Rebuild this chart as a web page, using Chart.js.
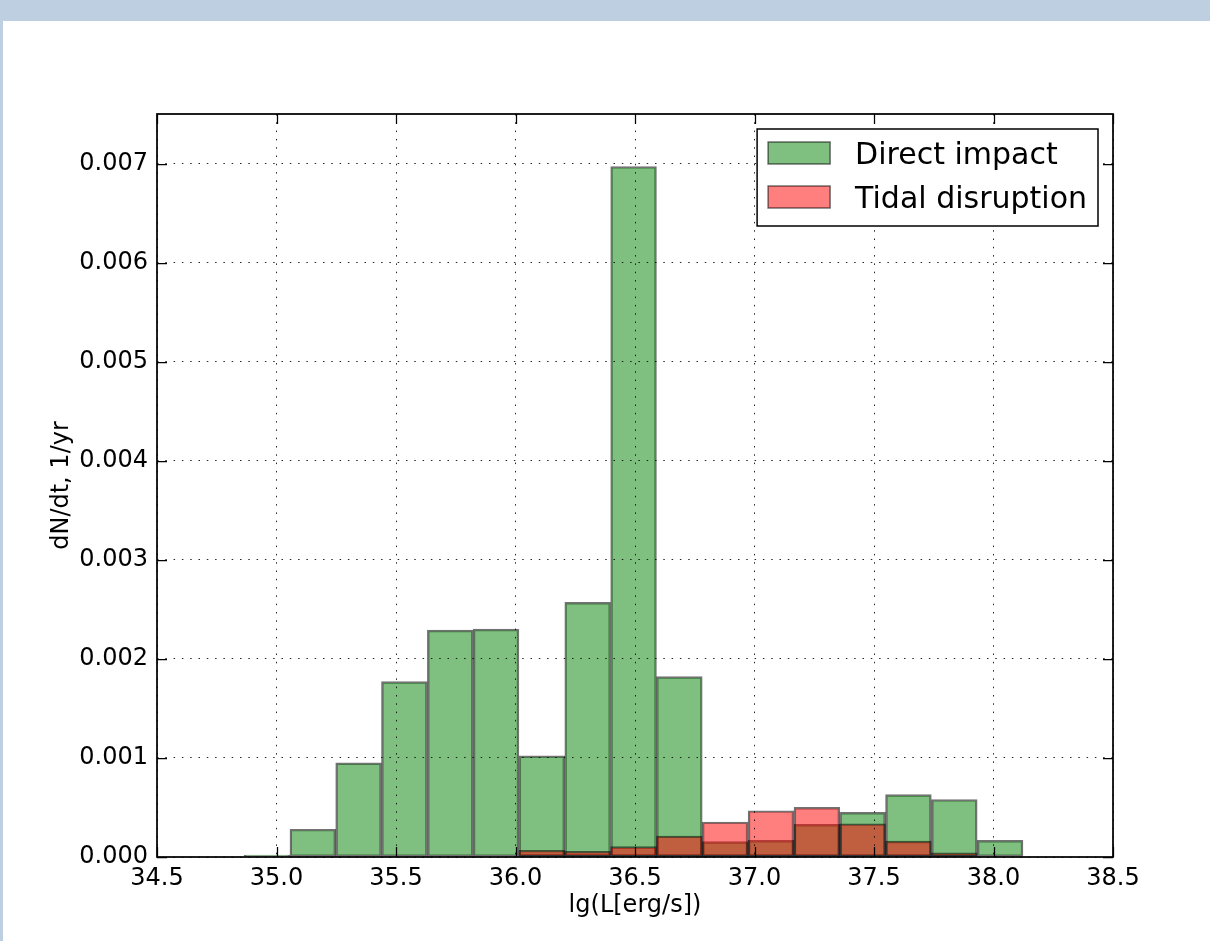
<!DOCTYPE html>
<html>
<head>
<meta charset="utf-8">
<script src="https://cdn.jsdelivr.net/npm/chart.js@4.4.0/dist/chart.umd.min.js"></script>
<style>
  html, body { margin: 0; padding: 0; background: #fff; }
  canvas { display: block; }
</style>
</head>
<body>
<canvas id="hist" width="1210" height="941"></canvas>
<script>
// Histogram bin edges, lg(L) in erg/s
const binEdges = [34.864, 35.056, 35.248, 35.439, 35.631, 35.823, 36.014, 36.206, 36.398,
                  36.590, 36.781, 36.973, 37.165, 37.357, 37.548, 37.740, 37.932, 38.123];

// Event rates per bin, dN/dt in 1/yr
const directImpact    = [0.00002, 0.00028, 0.00095, 0.00177, 0.00229, 0.00230, 0.00102, 0.00257, 0.00697,
                         0.00182, 0.000155, 0.000168, 0.00033, 0.00045, 0.00063, 0.00058, 0.000168];
const tidalDisruption = [0, 0, 0, 0, 0, 0, 0.000068, 0.000058, 0.000104,
                         0.000212, 0.000353, 0.000467, 0.000501, 0.000336, 0.000161, 0.000043, 0];

const seriesNames = ['Direct impact', 'Tidal disruption'];
const xTicks = [34.5, 35.0, 35.5, 36.0, 36.5, 37.0, 37.5, 38.0, 38.5];
const yTicks = [0, 0.001, 0.002, 0.003, 0.004, 0.005, 0.006, 0.007];
const xTitle = 'lg(L[erg/s])';
const yTitle = 'dN/dt, 1/yr';

const binCenters = binEdges.slice(0, -1).map((e, i) => (e + binEdges[i + 1]) / 2);
const toPoints = vals => vals.map((v, i) => ({ x: binCenters[i], y: v }));

const FONT = "'DejaVu Sans', 'Liberation Sans', sans-serif";
Chart.defaults.font.family = FONT;
Chart.defaults.color = '#000';

// light blue page frame behind the figure
const pageFrame = {
  id: 'pageFrame',
  beforeDraw(chart) {
    const { ctx, width, height } = chart;
    ctx.save();
    ctx.fillStyle = '#fff';
    ctx.fillRect(0, 0, width, height);
    ctx.fillStyle = '#bdcfe1';
    ctx.fillRect(0, 0, width, 21);
    ctx.fillRect(0, 0, 3, height);
    ctx.restore();
  }
};

// inward tick marks on all four sides and the axes box
const innerTicks = {
  id: 'innerTicks',
  afterDraw(chart) {
    const { ctx, chartArea: a, scales: { x, y } } = chart;
    const len = 10;
    ctx.save();
    ctx.strokeStyle = '#000';
    ctx.lineWidth = 1.25;
    ctx.beginPath();
    x.ticks.forEach(t => {
      const px = Math.round(x.getPixelForValue(t.value)) + 0.5;
      ctx.moveTo(px, a.bottom); ctx.lineTo(px, a.bottom - len);
      ctx.moveTo(px, a.top);    ctx.lineTo(px, a.top + len);
    });
    y.ticks.forEach(t => {
      const py = Math.round(y.getPixelForValue(t.value)) + 0.5;
      ctx.moveTo(a.left, py);  ctx.lineTo(a.left + len, py);
      ctx.moveTo(a.right, py); ctx.lineTo(a.right - len, py);
    });
    ctx.stroke();
    ctx.lineWidth = 1.75;
    ctx.strokeRect(a.left, a.top, a.right - a.left, a.bottom - a.top);
    ctx.restore();
  }
};

// framed legend in the upper right corner of the axes
const legendBox = {
  id: 'legendBox',
  afterDraw(chart) {
    const { ctx, chartArea: a } = chart;
    const ds = chart.data.datasets;
    ctx.save();
    ctx.font = '30px ' + FONT;
    const textW = Math.max(...ds.map(d => ctx.measureText(d.label).width));
    const padX = 11, patchW = 62, patchH = 22, gap = 25, rowH = 44;
    const w = padX + patchW + gap + textW + padX;
    const h = 97;
    const x0 = a.right - 15 - w;
    const y0 = a.top + 15;
    ctx.fillStyle = '#fff';
    ctx.fillRect(x0, y0, w, h);
    ctx.lineWidth = 1.5;
    ctx.strokeStyle = '#000';
    ctx.strokeRect(x0, y0, w, h);
    ds.forEach((d, i) => {
      const cy = y0 + 24 + i * rowH;
      ctx.fillStyle = d.backgroundColor;
      ctx.fillRect(x0 + padX, cy - patchH / 2, patchW, patchH);
      ctx.strokeStyle = d.borderColor;
      ctx.lineWidth = 1.5;
      ctx.strokeRect(x0 + padX, cy - patchH / 2, patchW, patchH);
      ctx.fillStyle = '#000';
      ctx.textBaseline = 'alphabetic';
      ctx.textAlign = 'left';
      ctx.fillText(d.label, x0 + padX + patchW + gap, cy + 10.5);
    });
    ctx.restore();
  }
};

new Chart(document.getElementById('hist'), {
  type: 'bar',
  data: {
    datasets: [
      {
        label: seriesNames[0],
        data: toPoints(directImpact),
        backgroundColor: 'rgba(0,128,0,0.5)',
        borderColor: 'rgba(0,0,0,0.55)',
        borderWidth: 1.75,
        borderSkipped: false,
        order: 2
      },
      {
        label: seriesNames[1],
        data: toPoints(tidalDisruption),
        backgroundColor: 'rgba(255,0,0,0.5)',
        borderColor: 'rgba(0,0,0,0.55)',
        borderWidth: 1.75,
        borderSkipped: false,
        order: 1
      }
    ]
  },
  options: {
    responsive: false,
    animation: false,
    devicePixelRatio: 1,
    layout: { padding: { top: 114, right: 97, bottom: 0, left: 0 } },
    datasets: { bar: { grouped: false, barPercentage: 1, categoryPercentage: 1 } },
    plugins: { legend: { display: false }, tooltip: { enabled: false } },
    scales: {
      x: {
        type: 'linear',
        min: 34.5,
        max: 38.5,
        offset: false,
        afterBuildTicks: s => { s.ticks = xTicks.map(v => ({ value: v })); },
        afterFit: s => { s.height = 84; },
        grid: { z: 1, offset: false, color: 'rgba(0,0,0,0.85)', lineWidth: 1, drawTicks: false },
        border: { display: false, dash: [1.5, 6.8] },
        ticks: {
          padding: 7, color: '#000', font: { size: 24 },
          maxRotation: 0, autoSkip: false,
          callback: v => v.toFixed(1)
        },
        title: {
          display: true, text: xTitle, color: '#000',
          font: { size: 24 }, padding: { top: 0, bottom: 21 }
        }
      },
      y: {
        type: 'linear',
        min: 0,
        max: 0.0075,
        afterBuildTicks: s => { s.ticks = yTicks.map(v => ({ value: v })); },
        afterFit: s => { s.width = 157; },
        grid: { z: 1, color: 'rgba(0,0,0,0.85)', lineWidth: 1, drawTicks: false },
        border: { display: false, dash: [1.5, 6.8] },
        ticks: {
          padding: 9, color: '#000', font: { size: 24 },
          callback: v => v.toFixed(3)
        },
        title: {
          display: true, text: yTitle, color: '#000',
          font: { size: 24 }, padding: { top: 47, bottom: 0 }
        }
      }
    }
  },
  plugins: [pageFrame, innerTicks, legendBox]
});
</script>
</body>
</html>
